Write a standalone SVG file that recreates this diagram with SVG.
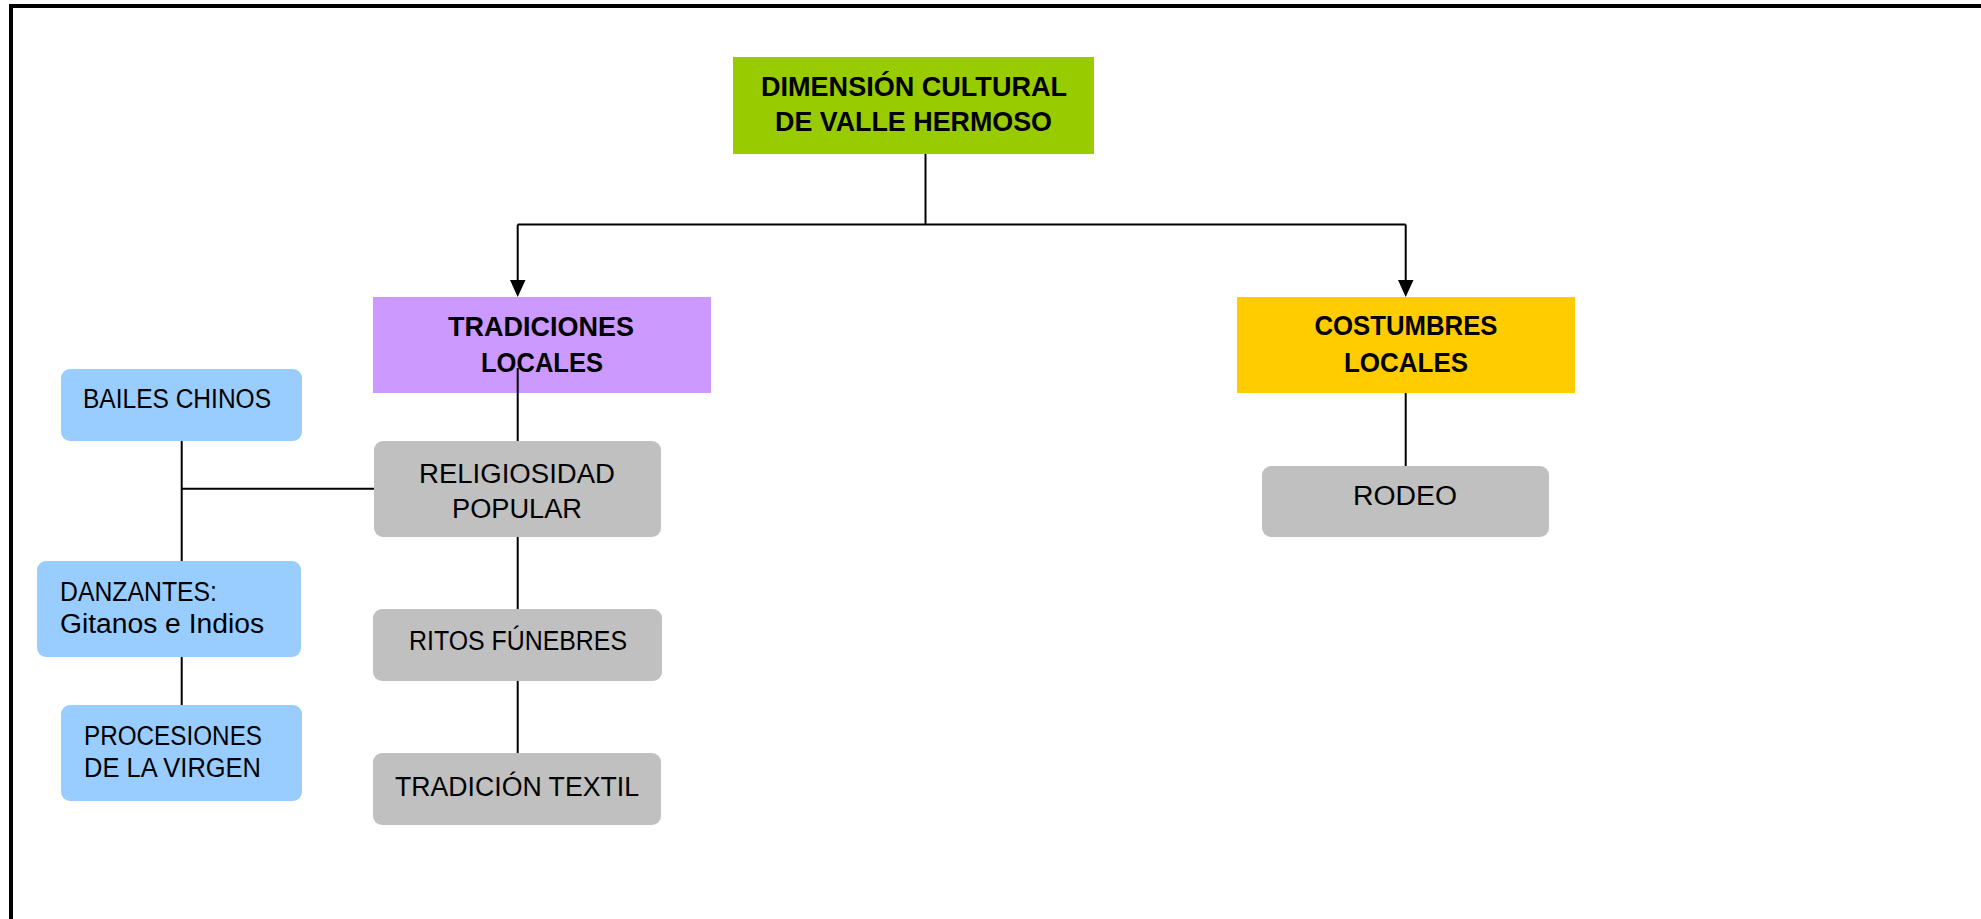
<svg xmlns="http://www.w3.org/2000/svg" width="1981" height="919" viewBox="0 0 1981 919">
<defs>
<style>
.t{font-family:"Liberation Sans",Arial,sans-serif;font-size:27px;fill:#000}
.b{font-weight:bold;font-size:28px}
.c{text-anchor:middle}
.ln{stroke:#000;stroke-width:2;fill:none}
.blue{fill:#99CCFF}
.gray{fill:#C0C0C0}
</style>
<marker id="ah" markerWidth="16" markerHeight="18" refX="8" refY="17" orient="auto-start-reverse" markerUnits="userSpaceOnUse" viewBox="0 0 16 18">
<path d="M0,0 L16,0 L8,18 Z" fill="#000" transform="rotate(0)"/>
</marker>
</defs>
<rect width="1981" height="919" fill="#fff"/>
<path d="M11,919 V6 H1981" fill="none" stroke="#000" stroke-width="4"/>

<g id="connectors">
<path class="ln" d="M925.5,154 V224.5"/>
<path class="ln" d="M517.7,224.5 H1405.7"/>
<path class="ln" d="M517.7,224.5 V281"/>
<path d="M510,280 L525.5,280 L517.7,297 Z" fill="#000"/>
<path class="ln" d="M1405.7,224.5 V281"/>
<path d="M1398,280 L1413.5,280 L1405.7,297 Z" fill="#000"/>
<path class="ln" d="M1405.7,393 V466"/>
<path class="ln" d="M517.7,368 V441"/>
<path class="ln" d="M517.7,537 V609"/>
<path class="ln" d="M517.7,681 V753"/>
<path class="ln" d="M374,488.7 H181.7"/>
<path class="ln" d="M181.7,441 V561"/>
<path class="ln" d="M181.7,657 V705"/>
</g>

<g id="n-dimension">
<rect x="733" y="57" width="361" height="97" fill="#99CC00"/>
<text class="t b c" x="914" y="96" textLength="306" lengthAdjust="spacingAndGlyphs">DIMENSIÓN CULTURAL</text>
<text class="t b c" x="913.5" y="131" textLength="277" lengthAdjust="spacingAndGlyphs">DE VALLE HERMOSO</text>
</g>

<g id="n-tradiciones">
<rect x="373" y="297" width="338" height="96" fill="#CC99FF"/>
<text class="t b c" x="541" y="335.5" textLength="186" lengthAdjust="spacingAndGlyphs">TRADICIONES</text>
<text class="t b c" x="542" y="371.5" textLength="122" lengthAdjust="spacingAndGlyphs">LOCALES</text>
</g>
<path class="ln" d="M517.7,368 V393"/>

<g id="n-costumbres">
<rect x="1237" y="297" width="338" height="96" fill="#FFCC00"/>
<text class="t b c" x="1406" y="335" textLength="183" lengthAdjust="spacingAndGlyphs">COSTUMBRES</text>
<text class="t b c" x="1406" y="372" textLength="124" lengthAdjust="spacingAndGlyphs">LOCALES</text>
</g>

<g id="n-rodeo">
<rect class="gray" x="1262" y="466" width="287" height="71" rx="9"/>
<text class="t c" x="1405" y="505" textLength="104" lengthAdjust="spacingAndGlyphs">RODEO</text>
</g>

<g id="n-religiosidad">
<rect class="gray" x="374" y="441" width="287" height="96" rx="9"/>
<text class="t c" x="517" y="482.7" textLength="196" lengthAdjust="spacingAndGlyphs">RELIGIOSIDAD</text>
<text class="t c" x="517" y="518" textLength="130" lengthAdjust="spacingAndGlyphs">POPULAR</text>
</g>

<g id="n-ritos">
<rect class="gray" x="373" y="609" width="289" height="72" rx="9"/>
<text class="t c" x="518" y="650" textLength="218" lengthAdjust="spacingAndGlyphs">RITOS FÚNEBRES</text>
</g>

<g id="n-textil">
<rect class="gray" x="373" y="753" width="288" height="72" rx="9"/>
<text class="t c" x="517" y="796" textLength="244" lengthAdjust="spacingAndGlyphs">TRADICIÓN TEXTIL</text>
</g>

<g id="n-bailes">
<rect class="blue" x="61" y="369" width="241" height="72" rx="9"/>
<text class="t" x="83" y="407.7" textLength="188" lengthAdjust="spacingAndGlyphs">BAILES CHINOS</text>
</g>

<g id="n-danzantes">
<rect class="blue" x="37" y="561" width="264" height="96" rx="9"/>
<text class="t" x="60" y="601" textLength="157" lengthAdjust="spacingAndGlyphs">DANZANTES:</text>
<text class="t" x="60" y="633" textLength="204" lengthAdjust="spacingAndGlyphs">Gitanos e Indios</text>
</g>

<g id="n-procesiones">
<rect class="blue" x="61" y="705" width="241" height="96" rx="9"/>
<text class="t" x="84" y="745" textLength="178" lengthAdjust="spacingAndGlyphs">PROCESIONES</text>
<text class="t" x="84" y="777" textLength="177" lengthAdjust="spacingAndGlyphs">DE LA VIRGEN</text>
</g>
</svg>
